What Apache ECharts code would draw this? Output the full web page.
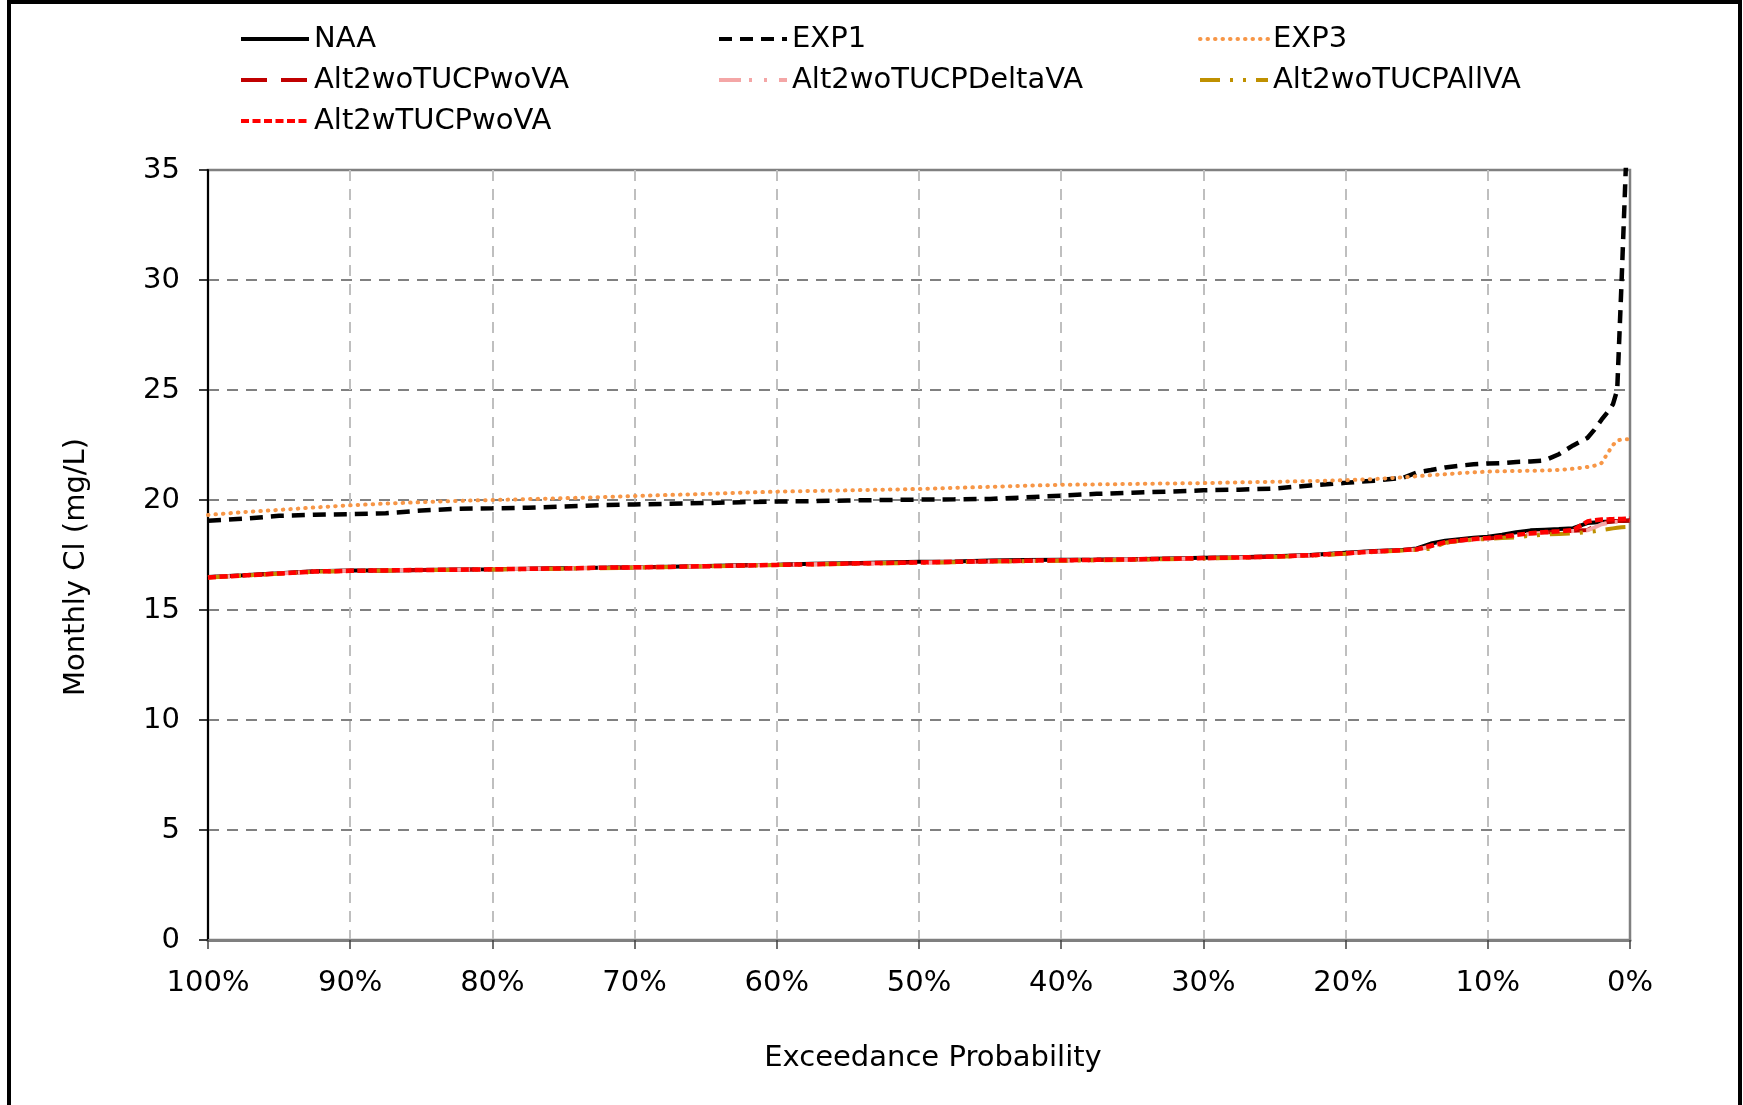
<!DOCTYPE html>
<html>
<head>
<meta charset="utf-8">
<title>Monthly Cl exceedance</title>
<script src="https://cdn.jsdelivr.net/npm/echarts@6/dist/echarts.min.js"></script>
<style>
  html, body { margin: 0; padding: 0; background: #fff; }
  #chart { width: 1743px; height: 1105px; }
</style>
</head>
<body>
<div id="chart"></div>
<script>
// Exceedance probability (%) shared by every scenario curve
const probability = [
  100, 97.5, 95, 92.5, 90, 87.5, 85, 82.5, 80, 77.5, 75, 72.5, 70, 67.5, 65, 62.5,
  60, 57.5, 55, 52.5, 50, 47.5, 45, 42.5, 40, 37.5, 35, 32.5, 30, 27.5, 25, 22.5, 20,
  18, 16, 15, 14, 13, 12, 11, 10, 9, 8, 7, 6, 5, 4, 3,
  2.5, 2, 1.5, 1.2, 0.9, 0.6, 0.3, 0
];

// Monthly chloride (mg/L) for each scenario
const naa = [
  16.50, 16.58, 16.67, 16.76, 16.79, 16.80, 16.82, 16.84, 16.85, 16.88,
  16.90, 16.92, 16.94, 16.97, 17.00, 17.03, 17.06, 17.10, 17.13, 17.16,
  17.19, 17.21, 17.25, 17.27, 17.28, 17.29, 17.31, 17.34, 17.37, 17.40,
  17.44, 17.50, 17.60, 17.68, 17.73, 17.80, 18.02, 18.15, 18.22, 18.28,
  18.33, 18.42, 18.53, 18.62, 18.65, 18.68, 18.72, 18.95, 18.98, 19.00,
  19.02, 19.03, 19.04, 19.05, 19.06, 19.07
];
const exp1 = [
  19.06, 19.15, 19.28, 19.33, 19.36, 19.40, 19.52, 19.60, 19.62, 19.65,
  19.70, 19.76, 19.80, 19.83, 19.86, 19.90, 19.93, 19.95, 19.98, 20.00,
  20.02, 20.03, 20.05, 20.12, 20.20, 20.28, 20.33, 20.38, 20.44, 20.47,
  20.52, 20.66, 20.78, 20.88, 21.00, 21.25, 21.36, 21.48, 21.56, 21.62,
  21.66, 21.68, 21.73, 21.75, 21.80, 22.08, 22.48, 22.82, 23.20, 23.65,
  24.05, 24.35, 25.00, 29.80, 35.00, 38.00
];
const exp3 = [
  19.32, 19.45, 19.55, 19.66, 19.76, 19.84, 19.90, 19.96, 20.00, 20.04,
  20.08, 20.13, 20.18, 20.23, 20.28, 20.33, 20.38, 20.41, 20.44, 20.47,
  20.50, 20.55, 20.60, 20.65, 20.69, 20.71, 20.73, 20.75, 20.77, 20.80,
  20.83, 20.86, 20.90, 20.95, 21.03, 21.08, 21.13, 21.17, 21.22, 21.26,
  21.29, 21.31, 21.32, 21.33, 21.34, 21.37, 21.42, 21.50, 21.56, 21.68,
  22.20, 22.50, 22.70, 22.75, 22.76, 22.76
];
const alt2woTucpWoVa = [
  16.49, 16.57, 16.66, 16.75, 16.78, 16.80, 16.82, 16.83, 16.85, 16.87,
  16.89, 16.91, 16.93, 16.96, 16.99, 17.02, 17.05, 17.08, 17.11, 17.13,
  17.16, 17.18, 17.21, 17.23, 17.25, 17.27, 17.29, 17.32, 17.35, 17.38,
  17.42, 17.48, 17.57, 17.65, 17.71, 17.75, 17.90, 18.06, 18.15, 18.21,
  18.25, 18.31, 18.39, 18.47, 18.52, 18.56, 18.60, 18.64, 18.80, 18.95,
  19.00, 19.02, 19.04, 19.05, 19.06, 19.07
];
const alt2woTucpDeltaVa = [
  16.49, 16.57, 16.66, 16.75, 16.78, 16.80, 16.82, 16.83, 16.85, 16.87,
  16.89, 16.91, 16.93, 16.96, 16.99, 17.02, 17.05, 17.08, 17.10, 17.13,
  17.15, 17.18, 17.21, 17.23, 17.25, 17.27, 17.29, 17.32, 17.35, 17.38,
  17.42, 17.48, 17.57, 17.65, 17.71, 17.75, 17.88, 18.05, 18.14, 18.20,
  18.24, 18.30, 18.38, 18.46, 18.51, 18.55, 18.59, 18.62, 18.75, 18.90,
  18.96, 18.99, 19.01, 19.02, 19.03, 19.04
];
const alt2woTucpAllVa = [
  16.48, 16.56, 16.65, 16.74, 16.77, 16.79, 16.81, 16.82, 16.84, 16.86,
  16.88, 16.90, 16.92, 16.95, 16.98, 17.01, 17.04, 17.07, 17.09, 17.12,
  17.14, 17.17, 17.20, 17.22, 17.24, 17.26, 17.28, 17.31, 17.34, 17.37,
  17.41, 17.47, 17.56, 17.64, 17.70, 17.74, 17.78, 18.06, 18.14, 18.19,
  18.23, 18.27, 18.30, 18.38, 18.43, 18.46, 18.48, 18.55, 18.58, 18.63,
  18.68, 18.71, 18.74, 18.76, 18.77, 18.78
];
const alt2wTucpWoVa = [
  16.48, 16.57, 16.66, 16.75, 16.78, 16.80, 16.82, 16.83, 16.85, 16.87,
  16.89, 16.92, 16.94, 16.96, 16.99, 17.02, 17.05, 17.08, 17.11, 17.14,
  17.16, 17.19, 17.22, 17.24, 17.26, 17.28, 17.30, 17.33, 17.36, 17.39,
  17.43, 17.49, 17.58, 17.66, 17.72, 17.76, 17.92, 18.08, 18.17, 18.23,
  18.27, 18.33, 18.41, 18.49, 18.54, 18.58, 18.63, 19.02, 19.08, 19.11,
  19.12, 19.13, 19.14, 19.14, 19.15, 19.16
];

const FONT = 'DejaVu Sans, Verdana, sans-serif';

function pairs(values) {
  return probability.map((p, i) => [p, values[i]]);
}

function line(name, values, color, width, type, cap) {
  return {
    name: name,
    type: 'line',
    data: pairs(values),
    symbol: 'none',
    showSymbol: false,
    clip: true,
    lineStyle: { color: color, width: width, type: type, cap: cap || 'butt' },
    itemStyle: { color: color },
    emphasis: { disabled: true }
  };
}

// Legend swatches: line only, no marker dot
const legendBase = {
  orient: 'vertical',
  top: 24,
  padding: 0,
  itemWidth: 68,
  itemHeight: 14,
  itemGap: 11,
  selectedMode: false,
  itemStyle: { opacity: 0 },
  lineStyle: { width: 4 },
  textStyle: { fontSize: 29, lineHeight: 30, fontFamily: FONT, color: '#000' }
};

const chart = echarts.init(document.getElementById('chart'), null, { renderer: 'canvas' });

chart.setOption({
  animation: false,
  backgroundColor: '#fff',
  grid: {
    left: 208, top: 170, width: 1422, height: 770,
    show: true, borderColor: '#808080', borderWidth: 2.5, backgroundColor: 'transparent'
  },
  legend: [
    Object.assign({}, legendBase, { left: 239, data: ['NAA', 'Alt2woTUCPwoVA', 'Alt2wTUCPwoVA'] }),
    Object.assign({}, legendBase, { left: 717, data: ['EXP1', 'Alt2woTUCPDeltaVA'] }),
    Object.assign({}, legendBase, { left: 1198, data: ['EXP3', 'Alt2woTUCPAllVA'] })
  ],
  xAxis: {
    type: 'value',
    min: 0, max: 100, interval: 10,
    inverse: true,
    axisLine: { show: true, onZero: false, lineStyle: { color: '#7f7f7f', width: 3 } },
    axisTick: { show: true, inside: false, length: 9, lineStyle: { color: '#404040', width: 1.5 } },
    axisLabel: { formatter: '{value}%', fontSize: 29, fontFamily: FONT, color: '#000', margin: 29 },
    splitLine: {
      show: true, showMinLine: false, showMaxLine: false,
      lineStyle: { color: '#bfbfbf', width: 2, type: [11, 8] }
    }
  },
  yAxis: {
    type: 'value',
    min: 0, max: 35, interval: 5,
    position: 'left',
    axisLine: { show: true, onZero: false, lineStyle: { color: '#000', width: 2 } },
    axisTick: { show: true, inside: false, length: 9, lineStyle: { color: '#000', width: 1.5 } },
    axisLabel: { fontSize: 29, fontFamily: FONT, color: '#000', margin: 28 },
    splitLine: {
      show: true, showMinLine: false, showMaxLine: false,
      lineStyle: { color: '#808080', width: 2, type: [11, 8] }
    }
  },
  graphic: [
    {
      type: 'rect', z: 100, silent: true,
      shape: { x: 9, y: 2, width: 1731, height: 1130 },
      style: { fill: 'none', stroke: '#000', lineWidth: 4 }
    },
    {
      type: 'text', z: 100, silent: true,
      x: 933, y: 1058,
      style: {
        text: 'Exceedance Probability', font: '29px ' + FONT, fill: '#000',
        align: 'center', verticalAlign: 'middle'
      }
    },
    {
      type: 'text', z: 100, silent: true,
      x: 76, y: 567, rotation: Math.PI / 2,
      style: {
        text: 'Monthly Cl (mg/L)', font: '29px ' + FONT, fill: '#000',
        align: 'center', verticalAlign: 'middle'
      }
    }
  ],
  series: [
    line('NAA', naa, '#000000', 4, 'solid'),
    line('EXP1', exp1, '#000000', 4.5, [13, 8]),
    line('EXP3', exp3, '#f79646', 4, [0.5, 7], 'round'),
    line('Alt2woTUCPwoVA', alt2woTucpWoVa, '#c00000', 4, [26, 14]),
    line('Alt2woTUCPDeltaVA', alt2woTucpDeltaVa, '#f4a6a6', 4, [22, 8, 3, 12, 3, 12]),
    line('Alt2woTUCPAllVA', alt2woTucpAllVa, '#bf9000', 4, [20, 10, 3, 10, 3, 10]),
    line('Alt2wTUCPwoVA', alt2wTucpWoVa, '#ff0000', 4.5, [8, 3.5])
  ]
});
</script>
</body>
</html>
